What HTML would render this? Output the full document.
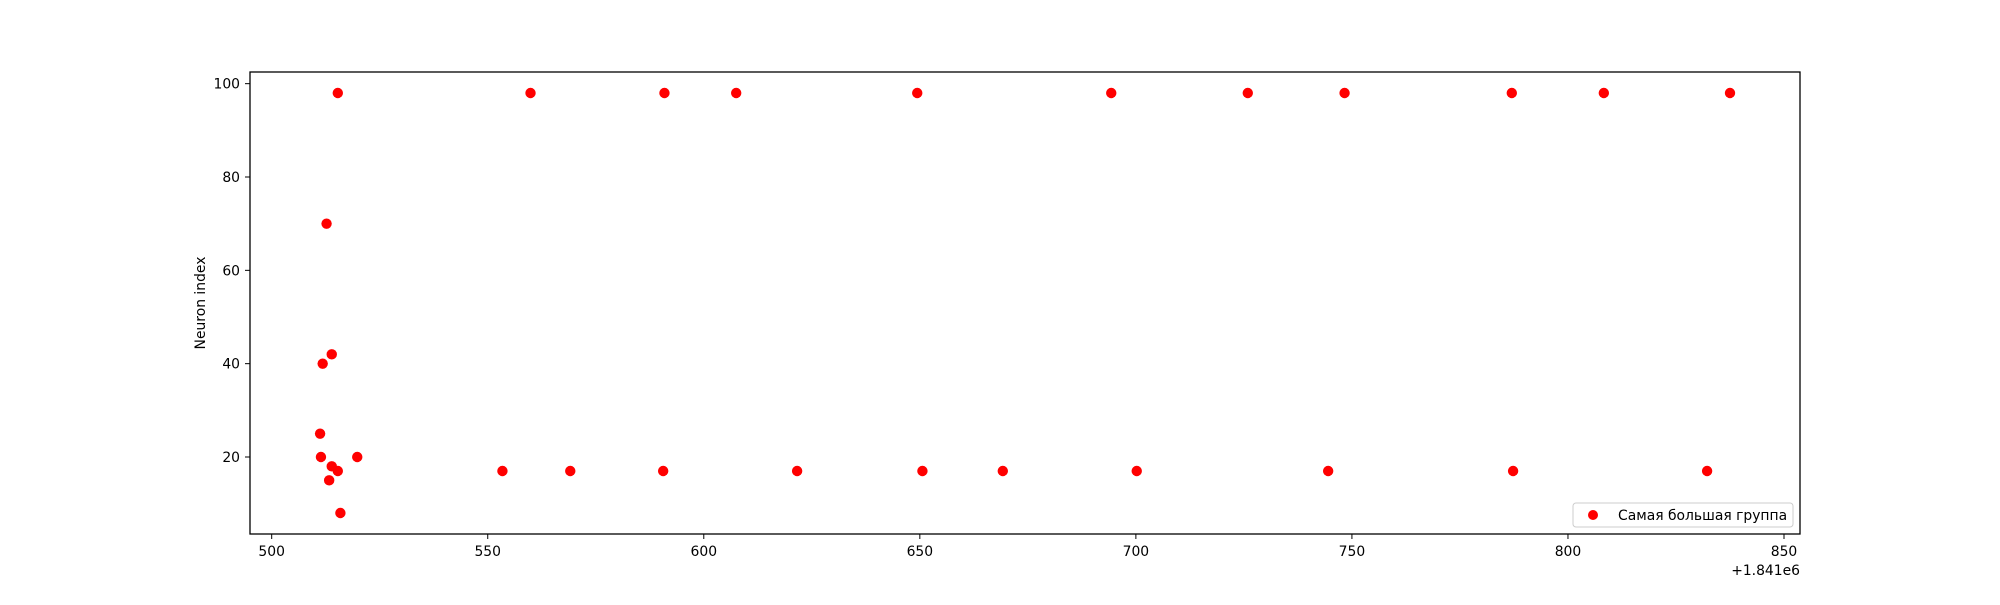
<!DOCTYPE html>
<html><head><meta charset="utf-8"><style>
body{margin:0;background:#fff;}
svg text{font-family:"DejaVu Sans","Liberation Sans",sans-serif;font-size:13.9px;fill:#000;}
</style></head><body>
<svg id="chart" width="2000" height="600" xmlns="http://www.w3.org/2000/svg">
<rect width="2000" height="600" fill="#fff"/>
<g id="marks"></g>
<rect x="250" y="72" width="1550" height="462" fill="none" stroke="#000" stroke-width="1.3"/>
<g id="xt"></g>
<g id="yt"></g>
<text x="1800" y="575" text-anchor="end">+1.841e6</text>
<text transform="translate(205,303) rotate(-90)" text-anchor="middle">Neuron index</text>
<g>
<rect x="1573" y="503" width="220" height="24" rx="3" fill="#fff" fill-opacity="0.8" stroke="#ccc"/>
<circle cx="1593" cy="515" r="5" fill="#ff0000"/>
<text x="1618" y="520">Самая большая группа</text>
</g>
</svg>
<script>
const xs = [515.3,559.9,590.9,607.5,649.4,694.3,725.9,748.3,787.0,808.3,837.5,
            553.4,569.1,590.6,621.6,650.6,669.2,700.2,744.5,787.3,832.2,
            511.2,511.4,511.8,512.7,513.9,513.3,513.9,515.3,515.9,519.8];
const ys = [98,98,98,98,98,98,98,98,98,98,98,
            17,17,17,17,17,17,17,17,17,17,
            25,20,40,70,42,15,18,17,8,20];
const xTicks = [500,550,600,650,700,750,800,850];
const yTicks = [20,40,60,80,100];
const X0=494.98, X1=853.7, Y0=3.5, Y1=102.5;
const sx = v => 250 + (v - X0) / (X1 - X0) * 1550;
const sy = v => 534 - (v - Y0) / (Y1 - Y0) * 462;
const NS = 'http://www.w3.org/2000/svg';
const marks = document.getElementById('marks');
xs.forEach((x,i)=>{
  const c=document.createElementNS(NS,'circle');
  c.setAttribute('cx',sx(x));c.setAttribute('cy',sy(ys[i]));c.setAttribute('r',5.2);c.setAttribute('fill','#ff0000');
  
  
  marks.appendChild(c);
});
const xt=document.getElementById('xt');
xTicks.forEach(t=>{
  const l=document.createElementNS(NS,'line');
  l.setAttribute('x1',sx(t));l.setAttribute('x2',sx(t));l.setAttribute('y1',534);l.setAttribute('y2',539);l.setAttribute('stroke','#000');
  
  
  xt.appendChild(l);
  const tx=document.createElementNS(NS,'text');
  tx.setAttribute('x',sx(t));tx.setAttribute('y',556);tx.setAttribute('text-anchor','middle');tx.textContent=t;
  
  
  xt.appendChild(tx);
});
const yt=document.getElementById('yt');
yTicks.forEach(t=>{
  const l=document.createElementNS(NS,'line');
  l.setAttribute('x1',245);l.setAttribute('x2',250);l.setAttribute('y1',sy(t));l.setAttribute('y2',sy(t));l.setAttribute('stroke','#000');
  
  
  yt.appendChild(l);
  const tx=document.createElementNS(NS,'text');
  tx.setAttribute('x',240);tx.setAttribute('y',sy(t)+5);tx.setAttribute('text-anchor','end');tx.textContent=t;
  
  
  yt.appendChild(tx);
});
</script>
</body></html>
